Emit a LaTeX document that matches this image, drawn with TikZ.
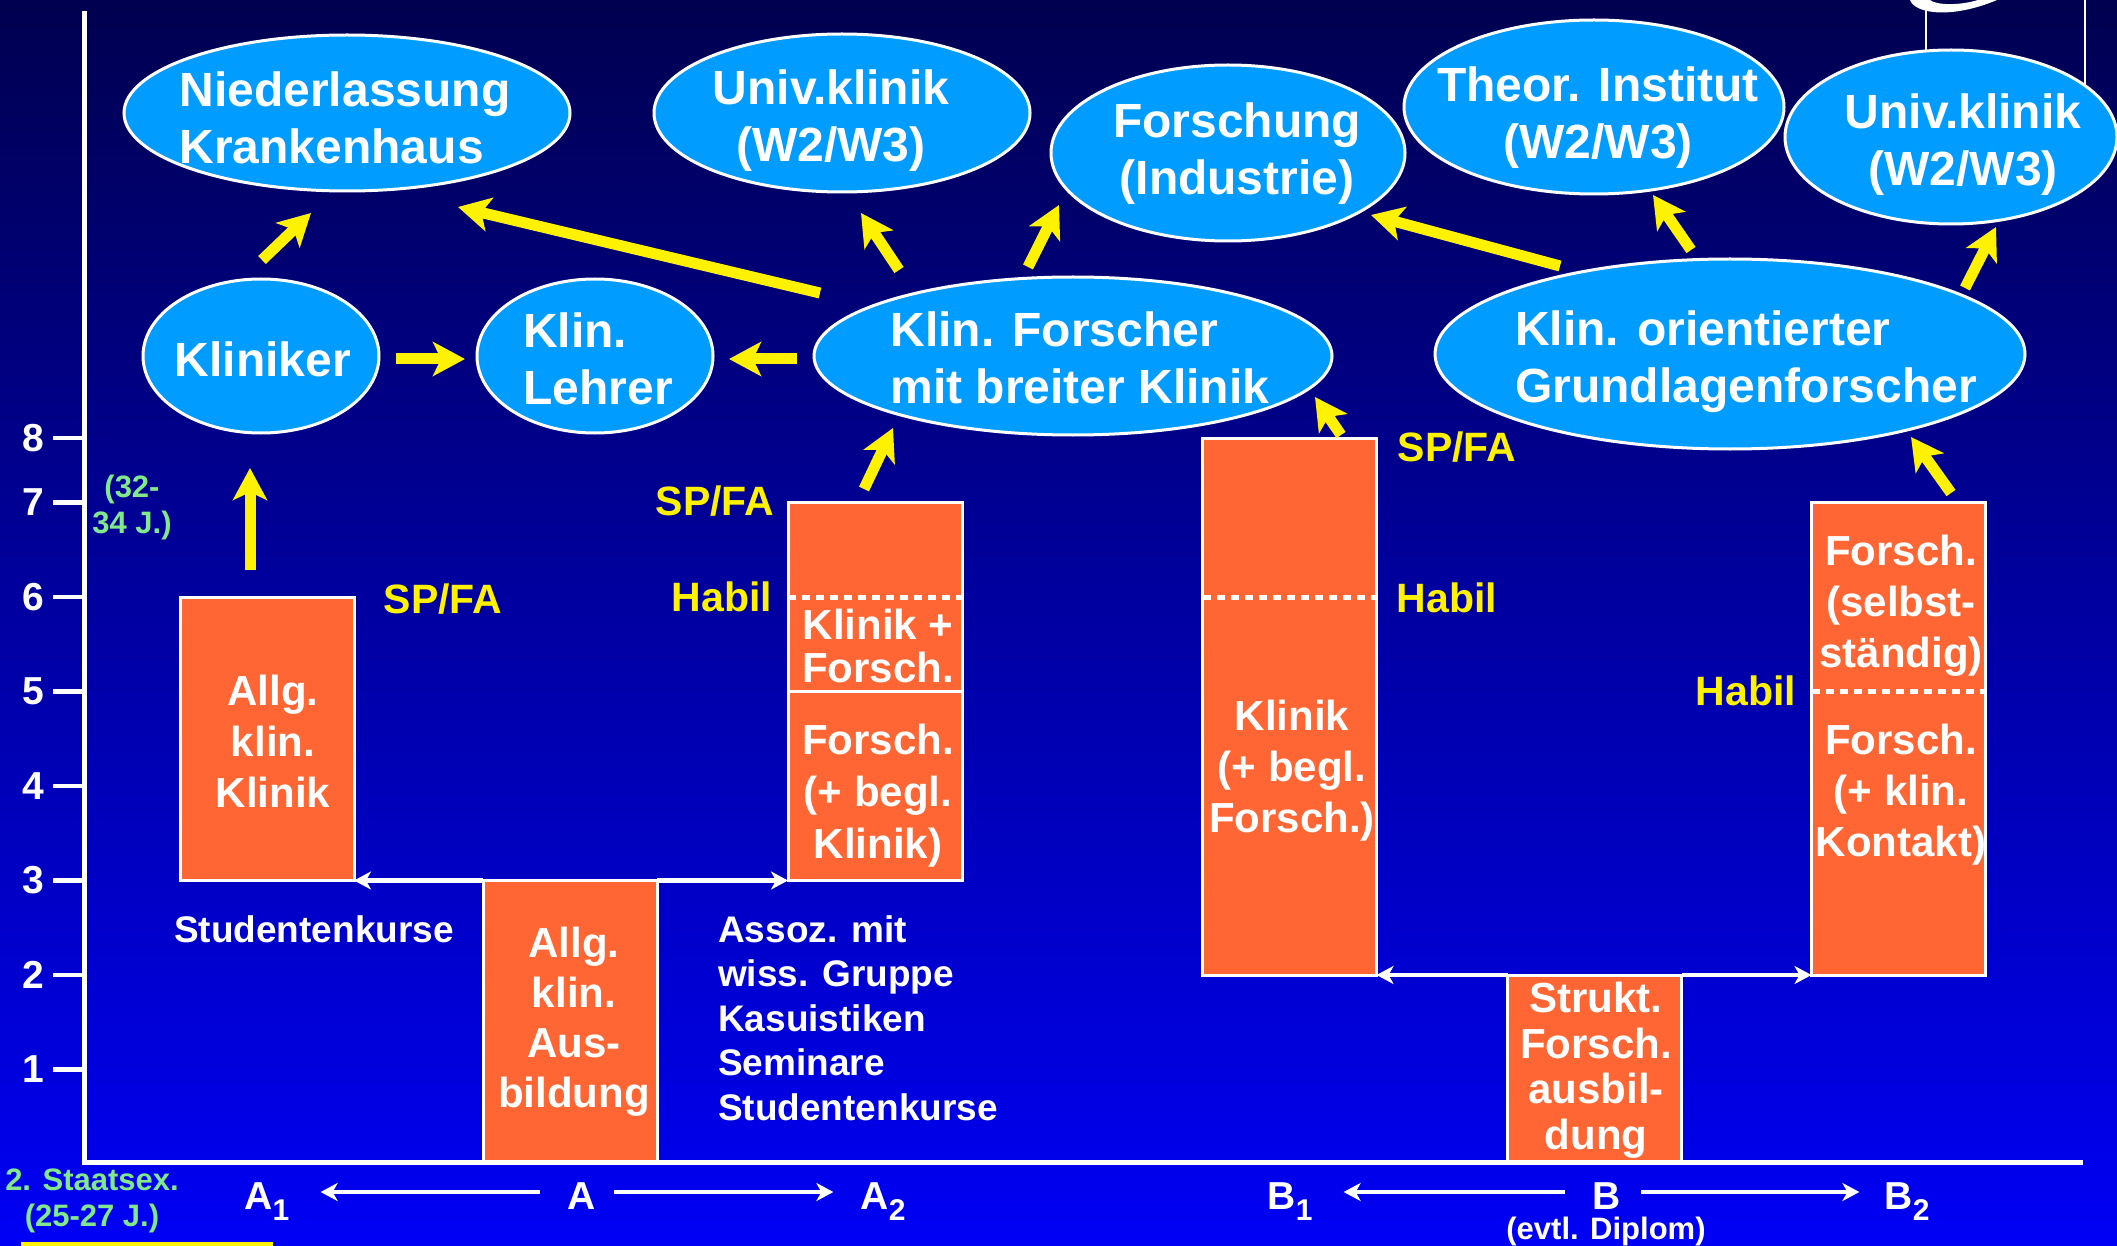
\documentclass[tikz,border=0pt]{standalone}
\usepackage{fontspec}
\setmainfont{Liberation Sans}
\usetikzlibrary{arrows.meta,shapes.geometric}
\definecolor{bgtop}{RGB}{0,0,80}
\definecolor{bgbot}{RGB}{0,0,245}
\definecolor{ellblue}{RGB}{0,156,255}
\definecolor{boxorange}{RGB}{255,102,51}
\definecolor{agegreen}{RGB}{130,232,140}
\newcommand\fEll{\fontsize{48pt}{57pt}\selectfont}
\newcommand\fBox{\fontsize{42pt}{51pt}\selectfont}
\newcommand\fLab{\fontsize{41pt}{49pt}\selectfont}
\newcommand\fTxt{\fontsize{37pt}{44.5pt}\selectfont}
\newcommand\fAge{\fontsize{31pt}{36pt}\selectfont}
\newcommand\fAx{\fontsize{39pt}{39pt}\selectfont}
\newcommand\fDip{\fontsize{31pt}{36pt}\selectfont}
\newcommand\subidx[1]{\raisebox{-11pt}{\fontsize{30pt}{30pt}\selectfont #1}}
\begin{document}
\begin{tikzpicture}[x=1pt,y=-1pt,
  ell/.style={ellipse, draw=white, line width=3pt, fill=ellblue, inner sep=0pt},
  etxt/.style={text=white, font=\bfseries\fEll, align=center, inner sep=0pt},
  obox/.style={rectangle, draw=white, line width=3pt, fill=boxorange, inner sep=0pt, outer sep=0pt, minimum width=174pt},
  btxt/.style={text=white, font=\bfseries\fBox, align=center, inner sep=0pt},
  ylab/.style={text=yellow, font=\bfseries\fLab, inner sep=0pt},
  wtxt/.style={text=white, font=\bfseries\fTxt, align=left, inner sep=0pt},
  agetxt/.style={text=agegreen, font=\bfseries\fAge, align=center, inner sep=0pt},
  yarrow/.style={draw=yellow, line width=11pt, -{Stealth[length=32pt,width=34pt,inset=8pt]}},
  warrow/.style={draw=white, line width=4.5pt, -{Stealth[length=17pt,width=18pt,inset=5pt]}},
  habline/.style={draw=white, line width=5pt, dash pattern=on 8pt off 6pt},
  sepline/.style={draw=white, line width=3pt},
  axlab/.style={text=white, font=\bfseries\fAx, anchor=east, inner sep=0pt},
  xlab/.style={text=white, font=\bfseries\fAx, inner sep=0pt, text height=34pt, text depth=0pt, anchor=base},
]
% background
\fill[top color=bgtop, bottom color=bgbot] (0,0) rectangle (2117,1246);
\useasboundingbox (0,0) rectangle (2117,1246);

% logo fragment top right
\draw[white, line width=2pt] (1926,0) -- (1926,60);
\draw[white, line width=2pt] (2085,0) -- (2085,95);
\fill[white] (1910,0) .. controls (1915,14) and (1952,19) .. (1997,0) -- (1978,0) .. controls (1958,6) and (1936,5) .. (1930,0) -- cycle;

% ellipses
\node[ell, minimum width=446pt, minimum height=156pt] (nied) at (347,113) {};
\node[ell, minimum width=376pt, minimum height=158pt] (univA) at (842,113) {};
\node[ell, minimum width=354pt, minimum height=176pt] (forsch) at (1228,153) {};
\node[ell, minimum width=380pt, minimum height=174pt] (theor) at (1594,107) {};
\node[ell, minimum width=332pt, minimum height=174pt] (univB) at (1951,137) {};
\node[ell, minimum width=236pt, minimum height=154pt] (klin) at (261,356) {};
\node[ell, minimum width=236pt, minimum height=154pt] (lehr) at (595,356) {};
\node[ell, minimum width=518pt, minimum height=158pt] (kfor) at (1073,356) {};
\node[ell, minimum width=590pt, minimum height=190pt] (grund) at (1730,354) {};

\node[etxt, align=left] (niedT) at (345,118) {Niederlassung\\Krankenhaus};
\node[etxt] (univAT) at (831,121) {Univ.klinik\\(W2/W3)};
\node[etxt] (forschT) at (1237,154) {Forschung\\(Industrie)};
\node[etxt] (theorT) at (1598,118) {Theor. Institut\\(W2/W3)};
\node[etxt] (univBT) at (1963,145) {Univ.klinik\\(W2/W3)};
\node[etxt] (klinT) at (263,359) {Kliniker};
\node[etxt, align=left] (lehrT) at (598,359) {Klin.\\Lehrer};
\node[etxt, align=left] (kforT) at (1080,358) {Klin. Forscher\\mit breiter Klinik};
\node[etxt, align=left] (grundT) at (1746,362) {Klin. orientierter\\Grundlagenforscher};

% boxes
\node[obox, minimum height=283.5pt] (box1) at (267,738.75) {};
\node[obox, minimum height=281.5pt] (box2) at (570,1021.25) {};
\node[obox, minimum height=378pt] (box3) at (875,691.5) {};
\node[obox, minimum height=537pt] (box4) at (1289.5,706.5) {};
\node[obox, minimum height=187pt] (box5) at (1594.5,1068.5) {};
\node[obox, minimum height=472.5pt] (box6) at (1898.5,738.75) {};

\coordinate (lev6) at (0,597);
\coordinate (lev5) at (0,691.5);
\draw[habline] (box3.west |- lev6) -- (box3.east |- lev6);
\draw[sepline] (box3.west |- lev5) -- (box3.east |- lev5);
\draw[habline] (box4.west |- lev6) -- (box4.east |- lev6);
\draw[habline] (box6.west |- lev5) -- (box6.east |- lev5);

\node[btxt] (box1T) at (273,741) {Allg.\\klin.\\Klinik};
\node[btxt, font=\bfseries\fontsize{42pt}{50pt}\selectfont] (box2T) at (574,1022) {Allg.\\klin.\\Aus-\\bildung};
\node[btxt, font=\bfseries\fontsize{42pt}{43pt}\selectfont] (box3aT) at (878,646) {Klinik +\\Forsch.};
\node[btxt, font=\bfseries\fontsize{42pt}{52pt}\selectfont] (box3bT) at (878,796) {Forsch.\\(+ begl.\\Klinik)};
\node[btxt] (box4T) at (1292,771) {Klinik\\(+ begl.\\Forsch.)};
\node[btxt, font=\bfseries\fontsize{42pt}{45.5pt}\selectfont] (box5T) at (1596,1070) {Strukt.\\Forsch.\\ausbil-\\dung};
\node[btxt] (box6aT) at (1901,606) {Forsch.\\(selbst-\\ständig)};
\node[btxt] (box6bT) at (1901,795) {Forsch.\\(+ klin.\\Kontakt)};

% yellow labels
\node[ylab] (sp1) at (443,599) {SP/FA};
\node[ylab] (sp2) at (715,501) {SP/FA};
\node[ylab] (hab1) at (722,597) {Habil};
\node[ylab] (sp3) at (1457,447) {SP/FA};
\node[ylab] (hab2) at (1447,598) {Habil};
\node[ylab] (hab3) at (1746,691) {Habil};

% white texts
\node[wtxt, anchor=west] (stud) at (174,929) {Studentenkurse};
\node[wtxt, anchor=west] (assoz) at (718,1018) {Assoz. mit\\wiss. Gruppe\\Kasuistiken\\Seminare\\Studentenkurse};

% age texts
\node[agetxt] (age2) at (132,507) {(32-\\34 J.)};
\node[agetxt] (age1) at (92,1201) {2. Staatsex.\\(25-27 J.)};
\fill[yellow] (21,1242) rectangle (273,1246);

% yellow arrows
\coordinate (y1s) at (262,260);   \coordinate (y1e) at (311,213);
\coordinate (y2s) at (820,293);   \coordinate (y2e) at (458,207);
\coordinate (y3s) at (396,359);   \coordinate (y3e) at (465,359);
\coordinate (y4s) at (797,359);   \coordinate (y4e) at (729,359);
\coordinate (y5s) at (899,270);   \coordinate (y5e) at (861,213);
\coordinate (y6s) at (1028,267);  \coordinate (y6e) at (1059,205);
\coordinate (y7s) at (1560,266);  \coordinate (y7e) at (1371,215);
\coordinate (y8s) at (1691,250);  \coordinate (y8e) at (1653,195);
\coordinate (y9s) at (1965,288);  \coordinate (y9e) at (1996,227);
\coordinate (y10s) at (1341,435); \coordinate (y10e) at (1315,397);
\coordinate (y11s) at (864,489);  \coordinate (y11e) at (893,428);
\coordinate (y12s) at (1951,493); \coordinate (y12e) at (1911,437);
\coordinate (y13s) at (250,570);  \coordinate (y13e) at (250,468);
\foreach \k in {1,...,13} {\draw[yarrow] (y\k s) -- (y\k e);}

% white arrows between boxes
\draw[warrow] (box2.north west) -- (box1.south east);
\draw[warrow] (box2.north east) -- (box3.south west);
\draw[warrow] (box5.north west) -- (box4.south east);
\draw[warrow] (box5.north east) -- (box6.south west);

% axis
\foreach \v/\yy in {1/1069.5,2/975,3/880.5,4/786,5/691.5,6/597,7/502.5,8/438} {
  \draw[white, line width=4.5pt] (53,\yy) -- (84,\yy);
  \node[axlab] (tick\v) at (44,\yy) {\v};
}
\draw[white, line width=5pt, line join=miter] (84,11) -- (84,1162) -- (2083,1162);

% bottom labels
\node[xlab] (A1) at (267,1209) {A\subidx{1}};
\node[xlab] (A) at (582,1209) {A};
\node[xlab] (A2) at (883,1209) {A\subidx{2}};
\node[xlab] (B1) at (1290,1209) {B\subidx{1}};
\node[xlab] (B) at (1607,1209) {B};
\node[xlab] (B2) at (1907,1209) {B\subidx{2}};
\node[text=white, font=\bfseries\fDip, inner sep=0pt] (dipl) at (1606,1231) {(evtl. Diplom)};

\draw[warrow] ([xshift=-28pt]A.west) -- ([xshift=31pt]A1.east);
\draw[warrow] ([xshift=18pt]A.east) -- ([xshift=-27pt]A2.west);
\draw[warrow] ([xshift=-28pt]B.west) -- ([xshift=31pt]B1.east);
\draw[warrow] ([xshift=20pt]B.east) -- ([xshift=-25pt]B2.west);
\end{tikzpicture}
\end{document}
